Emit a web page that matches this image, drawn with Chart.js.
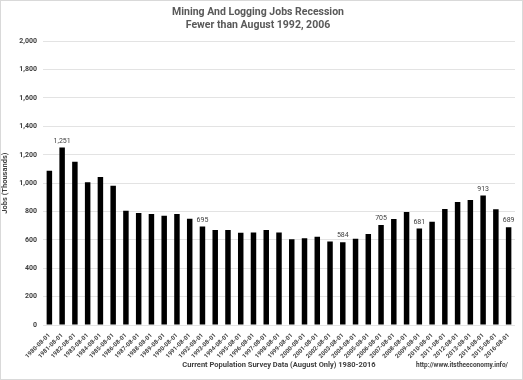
<!DOCTYPE html>
<html>
<head>
<meta charset="utf-8">
<script src="https://cdn.jsdelivr.net/npm/chart.js@4"></script>
<style>
  html, body { margin: 0; padding: 0; background: #fff; }
  #wrap { width: 521px; height: 378px; border: 1px solid #d9d9d9; }
</style>
</head>
<body>
<div id="wrap"><canvas id="grafico" width="521" height="378"></canvas></div>
<script>
const categorias = [
    '1980-08-01', '1981-08-01', '1982-08-01', '1983-08-01', '1984-08-01', '1985-08-01',
    '1986-08-01', '1987-08-01', '1988-08-01', '1989-08-01', '1990-08-01', '1991-08-01',
    '1992-08-01', '1993-08-01', '1994-08-01', '1995-08-01', '1996-08-01', '1997-08-01',
    '1998-08-01', '1999-08-01', '2000-08-01', '2001-08-01', '2002-08-01', '2003-08-01',
    '2004-08-01', '2005-08-01', '2006-08-01', '2007-08-01', '2008-08-01', '2009-08-01',
    '2010-08-01', '2011-08-01', '2012-08-01', '2013-08-01', '2014-08-01', '2015-08-01',
    '2016-08-01'
];
const empleos = [
    1088, 1251, 1150, 1006, 1044, 982,
    806, 790, 782, 770, 782, 749,
    695, 669, 669, 650, 652, 669,
    652, 605, 612, 622, 589, 584,
    608, 641, 705, 747, 796, 681,
    728, 818, 867, 881, 913, 815,
    689
];
// bars that carry a value label
const etiquetas = ['1981-08-01', '1992-08-01', '2003-08-01', '2006-08-01', '2009-08-01', '2014-08-01', '2016-08-01'];
const ticksY = [0, 200, 400, 600, 800, 1000, 1200, 1400, 1600, 1800, 2000];

const titulo = ['Mining And Logging Jobs Recession', 'Fewer than August 1992, 2006'];
const tituloX = 'Current Population Survey Data (August Only) 1980-2016';
const tituloY = 'Jobs (Thousands)';
const fuente = 'http://www.itstheeconomy.info/';

const FONT = '"Liberation Sans Narrow", Roboto, sans-serif';

const etiquetasPlugin = {
    id: 'etiquetas',
    afterDatasetsDraw(chart) {
        const ctx = chart.ctx;
        const meta = chart.getDatasetMeta(0);
        ctx.save();
        ctx.font = '7px ' + FONT;
        ctx.fillStyle = '#404040';
        ctx.textAlign = 'center';
        ctx.textBaseline = 'bottom';
        categorias.forEach((c, i) => {
            if (!etiquetas.includes(c)) return;
            const bar = meta.data[i];
            ctx.fillText(empleos[i].toLocaleString('en-US'), bar.x, bar.y - 3);
        });
        ctx.font = 'bold 6.5px ' + FONT;
        ctx.fillStyle = '#404040';
        ctx.textAlign = 'right';
        ctx.textBaseline = 'middle';
        ctx.fillText(fuente, 507, 364);
        ctx.restore();
    }
};

new Chart(document.getElementById('grafico').getContext('2d'), {
    type: 'bar',
    data: {
        labels: categorias,
        datasets: [{
            label: 'Jobs',
            data: empleos,
            backgroundColor: '#000000',
            barPercentage: 0.43,
            categoryPercentage: 1.0
        }]
    },
    options: {
        responsive: false,
        animation: false,
        layout: { padding: { left: 0, right: 7, top: 0, bottom: 9 } },
        plugins: {
            legend: { display: false },
            tooltip: { enabled: false },
            title: {
                display: true,
                text: titulo,
                color: '#595959',
                font: { family: FONT, size: 10.5, weight: 'bold', lineHeight: 1.25 },
                padding: { top: 5, bottom: 9 }
            }
        },
        scales: {
            x: {
                afterFit: (axis) => { axis.height = 45; },
                grid: { display: false },
                border: { display: false },
                ticks: {
                    color: '#404040',
                    font: { family: FONT, size: 6, weight: 'bold' },
                    minRotation: 45,
                    maxRotation: 45,
                    autoSkip: false,
                    padding: -1
                },
                title: {
                    display: true,
                    text: tituloX,
                    color: '#404040',
                    font: { family: FONT, size: 7.5, weight: 'bold' },
                    padding: { top: 2, bottom: 0 }
                }
            },
            y: {
                min: 0,
                max: 2000,
                afterBuildTicks: (axis) => { axis.ticks = ticksY.map(v => ({ value: v })); },
                afterFit: (axis) => { axis.width = 42; },
                grid: { color: '#e3e3e3', drawTicks: false },
                border: { display: false },
                ticks: {
                    color: '#404040',
                    font: { family: FONT, size: 7, weight: 'bold' },
                    padding: 6,
                    callback: (v) => v.toLocaleString('en-US')
                },
                title: {
                    display: true,
                    text: tituloY,
                    color: '#404040',
                    font: { family: FONT, size: 7.5, weight: 'bold' },
                    padding: { top: 0, bottom: 0 }
                }
            }
        }
    },
    plugins: [etiquetasPlugin]
});
</script>
</body>
</html>
